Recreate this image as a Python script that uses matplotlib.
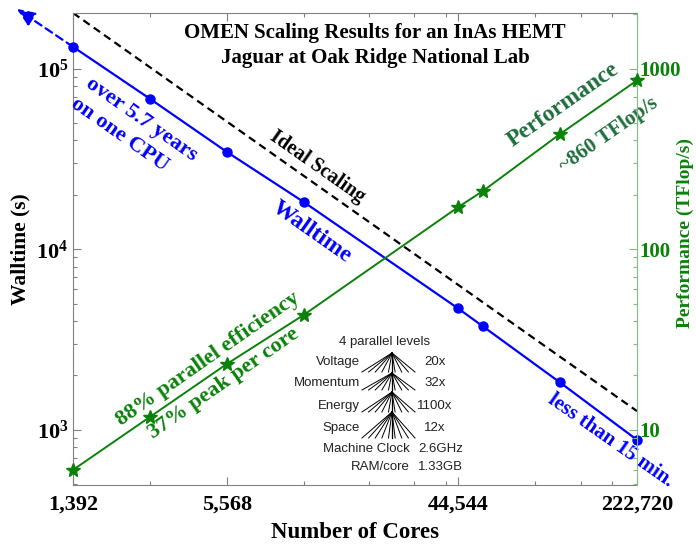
import numpy as np
import matplotlib
matplotlib.use('Agg')
import matplotlib.pyplot as plt
from matplotlib.ticker import LogLocator, NullFormatter, FixedLocator, FixedFormatter

plt.rcParams['font.family'] = 'Liberation Serif'
plt.rcParams['mathtext.fontset'] = 'custom'
plt.rcParams['mathtext.rm'] = 'Liberation Serif'
plt.rcParams['mathtext.bf'] = 'Liberation Serif:bold'

# strong scaling run on Jaguar
cores = [1392, 2784, 5568, 11136, 44544, 55680, 111360, 222720]
walltime = [1.32e5, 6.8e4, 3.45e4, 1.82e4, 4.7e3, 3.74e3, 1.83e3, 880]   # s
perf = [6.0, 11.8, 23.2, 43.4, 171, 210, 434, 860]                      # TFlop/s
ideal_at_full = 1270   # ideal walltime at the full machine, s

xtick_vals = [1392, 5568, 44544, 222720]
xtick_labels = ['1,392', '5,568', '44,544', '222,720']
xminor_vals = [2784, 11136, 20000, 30000, 40000, 89088, 135000, 178176]

# parallel levels box
levels = ['Voltage', 'Momentum', 'Energy', 'Space']
level_counts = ['20x', '32x', '1100x', '12x']
machine_keys = ['Machine Clock', 'RAM/core']
machine_vals = ['2.6GHz', '1.33GB']

BLUE = '#0000ff'
GREEN = '#0a820a'
DKGREEN = '#1d6e3c'

fig = plt.figure(figsize=(6.96, 5.45), dpi=100)
ax = fig.add_axes([0.1049, 0.1101, 0.8103, 0.8661])
ax2 = ax.twinx()

# ideal scaling line
c = np.array(cores, dtype=float)
ideal = ideal_at_full * c[-1] / c
ax.plot(c[[0, -1]], ideal[[0, -1]], color='k', lw=1.6, dashes=(3.5, 2.2), zorder=2)

# walltime
ax.plot(cores, walltime, '-o', color=BLUE, lw=1.6, ms=6.5, clip_on=False, zorder=4)

# dashed arrow continuing the walltime trend to a single core
slope = np.log10(walltime[1] / walltime[0]) / np.log10(cores[1] / cores[0])
dx = -0.22
tip = (cores[0] * 10**dx, walltime[0] * 10**(slope * dx))
ax.annotate('', xy=tip, xytext=(cores[0], walltime[0]), annotation_clip=False,
            arrowprops=dict(arrowstyle='-|>,head_length=1.1,head_width=0.45',
                            color=BLUE, lw=1.6, ls=(0, (3.5, 2.2)),
                            shrinkA=0, shrinkB=0))

# performance
ax2.plot(cores, perf, '-*', color=GREEN, lw=1.4, ms=10, clip_on=False, zorder=3)

ax.set_xscale('log')
ax.set_yscale('log')
ax2.set_yscale('log')
ax.set_xlim(cores[0], cores[-1])
ax.set_ylim(495, ideal[0])
ax2.set_ylim(4.95, ideal[0] / 100)

ax.xaxis.set_major_locator(FixedLocator(xtick_vals))
ax.xaxis.set_major_formatter(FixedFormatter(xtick_labels))
ax.xaxis.set_minor_locator(FixedLocator(xminor_vals))
ax.xaxis.set_minor_formatter(NullFormatter())

ax.yaxis.set_major_locator(FixedLocator([1e3, 1e4, 1e5]))
ax.yaxis.set_major_formatter(FixedFormatter([r'$\mathbf{10^{3}}$', r'$\mathbf{10^{4}}$', r'$\mathbf{10^{5}}$']))
ax.yaxis.set_minor_locator(LogLocator(base=10, subs=np.arange(2, 10)))
ax.yaxis.set_minor_formatter(NullFormatter())

ax2.yaxis.set_major_locator(FixedLocator([10, 100, 1000]))
ax2.yaxis.set_major_formatter(FixedFormatter(['10', '100', '1000']))
ax2.yaxis.set_minor_locator(LogLocator(base=10, subs=np.arange(2, 10)))
ax2.yaxis.set_minor_formatter(NullFormatter())

ax.tick_params(which='both', direction='in', color='#808080', top=True, right=False)
ax.tick_params(which='major', length=6, width=0.8, labelsize=16)
ax.tick_params(axis='x', which='major', pad=7)
ax.tick_params(which='minor', length=3, width=0.8)
for lab in ax.get_xticklabels():
    lab.set_fontweight('bold')
ax2.tick_params(which='both', direction='in', color='#7fbf7f')
ax2.tick_params(which='major', length=6, width=0.8, labelsize=15, labelcolor=GREEN, pad=2)
ax2.tick_params(which='minor', length=3, width=0.8)
for lab in ax2.get_yticklabels():
    lab.set_fontweight('bold')

for s in ['left', 'bottom', 'top']:
    ax.spines[s].set_color('#808080')
    ax.spines[s].set_linewidth(0.8)
ax.spines['right'].set_visible(False)
for s in ['left', 'bottom', 'top']:
    ax2.spines[s].set_visible(False)
ax2.spines['right'].set_color('#7fbf7f')
ax2.spines['right'].set_linewidth(0.8)

ax.set_xlabel('Number of Cores', fontsize=16.5, fontweight='bold', labelpad=5)
ax.set_ylabel('Walltime (s)', fontsize=15.5, fontweight='bold', labelpad=4)
ax2.set_ylabel('Performance (TFlop/s)', fontsize=14, fontweight='bold', color=GREEN)
ax2.yaxis.set_label_coords(1.071, 0.534)

# title inside the axes
ax.text(0.5355, 0.958, 'OMEN Scaling Results for an InAs HEMT', transform=ax.transAxes,
        ha='center', va='center', fontsize=15, fontweight='bold')
ax.text(0.5355, 0.905, 'Jaguar at Oak Ridge National Lab', transform=ax.transAxes,
        ha='center', va='center', fontsize=15, fontweight='bold')

# rotated labels along the lines
notes = [
    ('over 5.7 years', 0.1206, 0.7754, -35, BLUE, 16),
    ('on one CPU', 0.0833, 0.7415, -35, BLUE, 16),
    ('Ideal Scaling', 0.4326, 0.6737, -35, 'k', 14.5),
    ('Walltime', 0.4238, 0.536, -35, BLUE, 17),
    ('Performance', 0.8688, 0.8051, 35, DKGREEN, 17),
    ('~860 TFlop/s', 0.9504, 0.7415, 35, DKGREEN, 15),
    ('88% parallel efficiency', 0.2394, 0.2669, 35, GREEN, 16),
    ('37% peak per core', 0.2677, 0.2161, 35, GREEN, 16),
    ('less than 15 min.', 0.9539, 0.0953, -35, BLUE, 15),
]
for txt, x, y, rot, col, fs in notes:
    ax.text(x, y, txt, transform=ax.transAxes, rotation=rot, rotation_mode='anchor',
            ha='center', va='center', color=col, fontsize=fs, fontweight='bold',
            clip_on=False, zorder=5)

# parallel levels tree
sans = 'Liberation Sans'
ax.text(0.553, 0.303, '4 parallel levels', transform=ax.transAxes, ha='center',
        va='center', fontsize=9.5, family=sans, color='#222222')
apex_y = [0.2797, 0.2373, 0.197, 0.1547]
base_y = [0.2394, 0.2013, 0.1547, 0.0996]
row_y = [0.2606, 0.2161, 0.1674, 0.1208]
ax_x, x0, x1 = 0.5656, 0.5124, 0.6064
for i in range(len(levels)):
    for bx in np.linspace(x0, x1, 9):
        ax.plot([ax_x, bx], [apex_y[i], base_y[i]], color='k', lw=0.7,
                transform=ax.transAxes)
    ax.plot([ax_x, ax_x], [apex_y[i], base_y[i]], color='k', lw=0.9, transform=ax.transAxes)
    ax.text(0.509, row_y[i], levels[i], transform=ax.transAxes, ha='right', va='center',
            fontsize=9.5, family=sans, color='#222222')
    ax.text(0.6418, row_y[i], level_counts[i], transform=ax.transAxes, ha='center',
            va='center', fontsize=9.5, family=sans, color='#222222')
for j, yy in enumerate([0.0763, 0.0381]):
    ax.text(0.5975, yy, machine_keys[j], transform=ax.transAxes, ha='right', va='center',
            fontsize=9.5, family=sans, color='#222222')
    ax.text(0.6117, yy, machine_vals[j], transform=ax.transAxes, ha='left', va='center',
            fontsize=9.5, family=sans, color='#222222')

fig.savefig('out.png', dpi=100)
